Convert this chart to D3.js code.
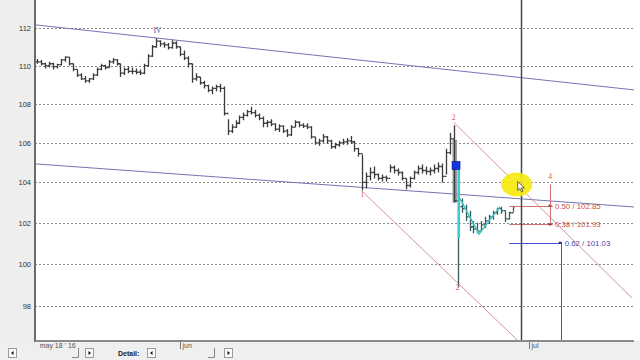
<!DOCTYPE html>
<html lang="en">
<head>
<meta charset="UTF-8">
<title>usdjpy</title>
<script src="https://d3js.org/d3.v7.min.js"></script>
<style>
  body { margin: 0; background: #fff; }
  svg { display: block; font-family: "Liberation Sans", Arial, sans-serif; }
</style>
</head>
<body>
<div class="canvas"></div>
<script>
  // bar highs / lows / closes (one bar per slot, open = previous close)
  const hi = [110.35,110.3,110.15,110.2,110.15,110.1,110.35,110.5,110.45,110.1,
              109.8,109.6,109.45,109.35,109.6,109.9,110.1,110.05,110.3,110.4,
              110.35,110.1,109.9,109.95,109.9,109.85,109.8,110.1,110.6,111.1,
              111.45,111.35,111.25,111.2,111.35,111.3,111.0,110.8,110.5,110.1,
              109.6,109.4,109.2,109.0,108.9,109.0,109.05,108.9,107.2,106.95,
              107.15,107.4,107.55,107.7,107.85,107.7,107.5,107.35,107.15,107.2,
              107.0,106.95,106.9,106.7,106.9,107.15,107.1,107.0,107.0,106.85,
              106.3,106.2,106.45,106.35,106.15,106.0,106.1,106.2,106.25,106.35,
              106.1,105.75,105.4,104.5,104.75,104.8,104.45,104.4,104.35,104.9,
              104.85,104.7,104.55,104.2,104.3,104.6,104.85,104.9,104.8,104.75,
              104.9,105.0,104.95,105.7,106.5,106.9,105.0,103.2,102.9,102.6,
              102.1,102.0,102.1,102.3,102.4,102.6,102.75,102.8,102.6,102.55,102.85];
  const lo = [110.1,110.0,109.85,109.9,109.8,109.85,110.0,110.2,110.0,109.7,
              109.4,109.25,109.1,109.1,109.25,109.45,109.75,109.8,109.9,110.1,
              110.0,109.4,109.5,109.6,109.55,109.55,109.5,109.55,109.95,110.45,
              110.95,111.0,110.95,110.85,110.9,110.9,110.5,110.3,109.9,109.1,
              109.2,109.0,108.8,108.6,108.5,108.65,108.6,107.4,106.4,106.5,
              106.75,106.95,107.15,107.35,107.45,107.3,107.15,106.8,106.8,106.85,
              106.6,106.55,106.5,106.3,106.35,106.8,106.8,106.75,106.7,106.2,
              105.9,105.85,106.0,105.95,105.7,105.7,105.8,105.9,105.9,105.95,
              105.55,105.3,103.6,103.7,104.1,104.2,104.1,104.05,104.05,104.5,
              104.45,104.35,104.1,103.65,103.75,104.15,104.4,104.45,104.4,104.35,
              104.45,104.5,104.0,104.4,105.4,103.0,98.9,102.5,102.1,101.6,
              101.5,101.5,101.6,101.75,101.95,102.15,102.4,102.45,102.05,102.15,102.55];
  const cl = [110.2,110.1,110.0,110.1,109.95,110.05,110.3,110.45,110.1,109.8,
              109.5,109.3,109.2,109.3,109.5,109.8,110.0,109.9,110.2,110.3,
              110.1,109.6,109.8,109.7,109.7,109.65,109.6,110.0,110.5,111.0,
              111.3,111.15,111.1,110.95,111.2,111.0,110.6,110.4,110.1,109.3,
              109.4,109.1,108.95,108.7,108.8,108.9,108.8,107.5,106.6,106.8,
              107.0,107.3,107.4,107.6,107.55,107.4,107.25,107.0,107.05,106.95,
              106.7,106.85,106.6,106.4,106.8,107.05,106.9,106.85,106.8,106.3,
              106.0,106.1,106.3,106.1,105.8,105.9,106.0,106.05,106.1,106.05,
              105.7,105.45,104.0,104.3,104.5,104.4,104.2,104.25,104.2,104.75,
              104.6,104.5,104.2,103.85,104.2,104.5,104.7,104.6,104.55,104.6,
              104.7,104.8,104.3,105.5,106.2,103.1,102.8,102.7,102.3,101.8,
              101.7,101.6,101.9,102.1,102.3,102.5,102.7,102.6,102.2,102.5,102.8];
  const firstTealBar = 106;

  const priceTicks = [98, 100, 102, 104, 106, 108, 110, 112];
  const dateTicks = [0, 36, 124];
  const dateLabels = ["may 18 ' 16", "jun", "jul"];

  // drawings (bar slot, price)
  const upperTrend = [[-0.3, 112.17], [150.7, 108.72]];
  const lowerTrend = [[-0.3, 104.93], [150.7, 102.78]];
  const redLine1 = [[82, 103.55], [121.3, 96.38]];
  const redLine2 = [[105, 107.05], [150, 98.38]];
  const waveDown = [[106.3, 104.75], [106.3, 101.25]];
  const waveZig = [[106.6, 103.2], [111.4, 101.45], [116.7, 102.8]];
  const bodyBox = [105, 106.15, 103.0];
  const blueSquare = [105.6, 104.85];
  const fibLevels = ['0.50 / 102.85', '0.38 / 101.93'];
  const fibPrices = [102.85, 101.93];
  const projLabel = '0.62 / 101.03';
  const projPrice = 101.03;
  const waveLabels = [['IV', 30.3, 111.75, '#5050a0'], ['1', 82, 103.3, '#c86060'],
                      ['2', 105, 107.15, '#c86060'], ['2', 106, 98.75, '#c86060'],
                      ['4', 129.3, 104.15, '#c86060']];
  const cursorSlot = 122;
  const projSlot = 132;

  const width = 640, height = 360;
  const ml = 35, pr = 634, pb = 341;

  const svg = d3.select('.canvas').append('svg')
      .attr('width', width).attr('height', height);

  const x = d3.scaleLinear().domain([0, 151]).range([37.2, 636.1]);
  const y = d3.scaleLog().domain([96.38, 113.52]).range([pb, 0]);
  const px = v => Math.round(x(v)) + 0.5;

  // side panels
  svg.append('rect').attr('x', 0).attr('y', 0).attr('width', ml).attr('height', height).attr('fill', '#eeeeee');
  svg.append('rect').attr('x', 0).attr('y', pb).attr('width', width).attr('height', height - pb).attr('fill', '#efefef');

  svg.append('clipPath').attr('id', 'plot')
    .append('rect').attr('x', ml).attr('y', 0).attr('width', pr - ml).attr('height', pb);

  const g = svg.append('g').attr('clip-path', 'url(#plot)');

  // grid
  g.selectAll('.grid').data(priceTicks).enter().append('line')
    .attr('x1', ml).attr('x2', pr)
    .attr('y1', d => Math.round(y(d)) + 0.5).attr('y2', d => Math.round(y(d)) + 0.5)
    .attr('stroke', '#8a8a8a').attr('stroke-dasharray', '2,2');

  const line = d3.line().x(d => x(d[0])).y(d => y(d[1]));

  // trend lines
  [upperTrend, lowerTrend].forEach(t => {
    g.append('path').attr('d', line(t)).attr('fill', 'none').attr('stroke', '#7474b4').attr('stroke-width', 1);
  });
  [redLine1, redLine2].forEach(t => {
    g.append('path').attr('d', line(t)).attr('fill', 'none').attr('stroke', '#d89494').attr('stroke-width', 1);
  });

  // gray body box
  g.append('rect')
    .attr('x', px(bodyBox[0]) - 2).attr('width', 4.5)
    .attr('y', y(bodyBox[1])).attr('height', y(bodyBox[2]) - y(bodyBox[1]))
    .attr('fill', '#9c9c9c');

  // bars
  g.selectAll('.bar').data(hi).enter().append('path')
    .attr('d', (d, i) => {
      const xx = px(i);
      const op = i === 0 ? cl[0] : cl[i - 1];
      return `M${xx},${y(hi[i])}V${y(lo[i])}M${xx - 2},${y(op)}H${xx}M${xx},${y(cl[i])}H${xx + 2}`;
    })
    .attr('fill', 'none')
    .attr('stroke', (d, i) => i >= firstTealBar ? '#385a5a' : '#3a3a3a')
    .attr('stroke-width', 1.3);

  // wave drawing
  g.append('path').attr('d', line(waveDown)).attr('fill', 'none').attr('stroke', '#3ccccc').attr('stroke-width', 2.5);
  g.append('path').attr('d', line(waveZig)).attr('fill', 'none').attr('stroke', '#3cc4c4').attr('stroke-width', 1.5);

  g.append('rect')
    .attr('x', x(blueSquare[0]) - 4).attr('y', y(blueSquare[1]) - 4)
    .attr('width', 8).attr('height', 8)
    .attr('fill', '#1234e0').attr('stroke', '#0a1a80').attr('stroke-width', 0.6);

  // fib levels
  const fibG = g.append('g');
  fibPrices.forEach((p, i) => {
    fibG.append('line').attr('x1', x(119)).attr('x2', x(130))
      .attr('y1', Math.round(y(p)) + 0.5).attr('y2', Math.round(y(p)) + 0.5)
      .attr('stroke', '#d07070');
    fibG.append('rect').attr('x', x(129.3) - 1.5).attr('y', y(p) - 1)
      .attr('width', 3).attr('height', 2).attr('fill', '#a02020');
    fibG.append('text').attr('x', x(129.3) + 5).attr('y', y(p) + 3)
      .attr('font-size', 7.8).attr('fill', '#c85050').text(fibLevels[i]);
  });
  fibG.append('line').attr('x1', px(129.3)).attr('x2', px(129.3))
    .attr('y1', y(103.9)).attr('y2', y(fibPrices[1]))
    .attr('stroke', '#d07070');

  // projection
  g.append('line').attr('x1', x(119)).attr('x2', x(projSlot))
    .attr('y1', Math.round(y(projPrice)) + 0.5).attr('y2', Math.round(y(projPrice)) + 0.5)
    .attr('stroke', '#4c4cd0');
  g.append('line').attr('x1', px(projSlot)).attr('x2', px(projSlot))
    .attr('y1', y(projPrice)).attr('y2', pb)
    .attr('stroke', '#4c4cd8');
  g.append('rect').attr('x', x(projSlot) - 2).attr('y', y(projPrice) - 1)
    .attr('width', 3).attr('height', 2).attr('fill', '#2020a0');
  g.append('text').attr('x', x(projSlot) + 4).attr('y', y(projPrice) + 3)
    .attr('font-size', 7.8).attr('fill', '#4848a8').text(projLabel);

  // wave labels
  g.selectAll('.wl').data(waveLabels).enter().append('text')
    .attr('x', d => x(d[1])).attr('y', d => y(d[2]))
    .attr('text-anchor', 'middle').attr('font-size', 7.5)
    .attr('font-family', '"Liberation Serif", serif')
    .attr('fill', d => d[3]).text(d => d[0]);

  // cursor line
  g.append('line').attr('x1', px(cursorSlot)).attr('x2', px(cursorSlot))
    .attr('y1', 0).attr('y2', pb).attr('stroke', '#474747').attr('stroke-width', 1.5);

  // highlight + pointer
  g.append('ellipse').attr('cx', x(120.9)).attr('cy', y(103.9))
    .attr('rx', 15.5).attr('ry', 12).attr('fill', '#f6ea10').attr('opacity', 0.92);
  const cx0 = x(120.9) + 1, cy0 = y(103.9) - 3;
  g.append('path')
    .attr('d', `M${cx0},${cy0}l0,9l2.2,-2l1.6,3.4l1.4,-0.7l-1.6,-3.3l3,0z`)
    .attr('fill', '#fff').attr('stroke', '#222').attr('stroke-width', 0.7);

  // axes
  const yAxisG = svg.append('g').attr('transform', `translate(${ml},0)`)
    .call(d3.axisLeft(y).tickValues(priceTicks).tickFormat(d3.format('d')).tickSize(0).tickPadding(4));
  yAxisG.select('.domain').remove();
  yAxisG.selectAll('text').attr('font-size', 7.5).attr('fill', '#333').style('font-family', '"Liberation Sans", Arial, sans-serif');

  const xAxisG = svg.append('g').attr('transform', `translate(0,${pb})`)
    .call(d3.axisBottom(x).tickValues(dateTicks).tickFormat((d, i) => dateLabels[i]).tickSize(8).tickPadding(0));
  xAxisG.select('.domain').remove();
  xAxisG.selectAll('.tick line').attr('stroke', '#777').attr('stroke-width', 1)
    .attr('opacity', (d, i) => i === 0 ? 0 : 1);
  xAxisG.selectAll('.tick text').attr('text-anchor', 'start').attr('dx', 2).attr('dy', '-0.1em')
    .attr('font-size', 7).attr('fill', '#555').style('font-family', '"Liberation Sans", Arial, sans-serif');

  // frame lines
  svg.append('line').attr('x1', ml).attr('x2', ml).attr('y1', 0).attr('y2', pb + 1)
    .attr('stroke', '#6a6a6a').attr('stroke-width', 2);
  svg.append('line').attr('x1', ml).attr('x2', pr).attr('y1', pb).attr('y2', pb)
    .attr('stroke', '#8a8a8a').attr('stroke-width', 2);

  // toolbar
  const bar = svg.append('g');
  function button(bx, dir) {
    bar.append('rect').attr('x', bx + 0.5).attr('y', 348.5).attr('width', 8).attr('height', 9)
      .attr('fill', '#fafafa').attr('stroke', '#9a9a9a');
    const tx = bx + 4.5;
    bar.append('path')
      .attr('d', dir < 0 ? `M${tx - 1.5},353l2.5,-2v4z` : `M${tx + 1.5},353l-2.5,-2v4z`)
      .attr('fill', '#111');
  }
  function notch(nx) {
    bar.append('path').attr('d', `M${nx - 6},357.5H${nx}.5V348`).attr('fill', 'none').attr('stroke', '#888');
  }
  button(8, -1); notch(78); button(85, 1);
  bar.append('text').attr('x', 118).attr('y', 355.5).attr('font-size', 7).attr('font-weight', 'bold')
    .attr('fill', '#222').text('Detail:');
  button(147, -1); notch(214); button(224, 1);
</script>
</body>
</html>
